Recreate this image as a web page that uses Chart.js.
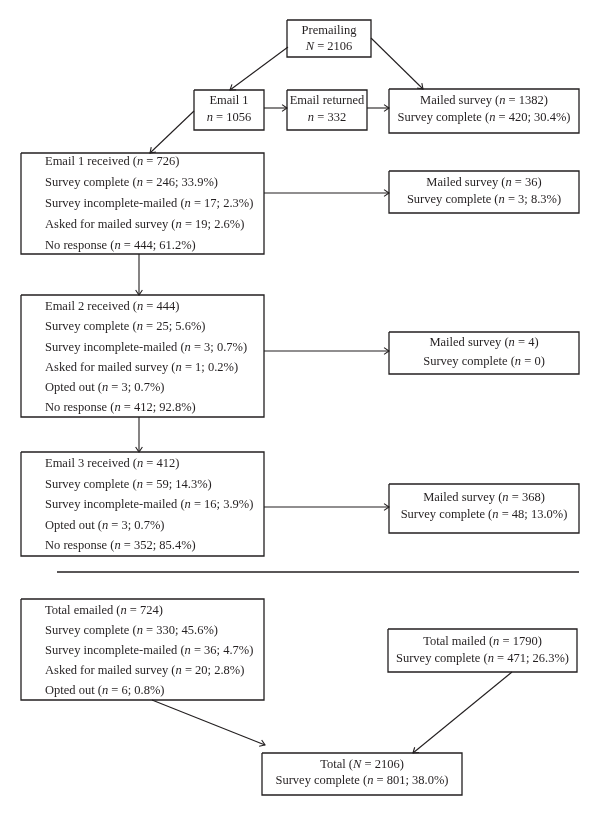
<!DOCTYPE html>
<html>
<head>
<meta charset="utf-8">
<script src="https://cdn.jsdelivr.net/npm/chart.js@4"></script>
<style>
  html, body { margin: 0; padding: 0; background: #fff; }
  #wrap { width: 600px; height: 816px; }
</style>
</head>
<body>
<div id="wrap"><canvas id="flow" width="600" height="816"></canvas></div>
<script>
// text of each box (*x* = italic)
const premailing = ['Premailing', '*N* = 2106'];
const email1 = ['Email 1', '*n* = 1056'];
const emailReturned = ['Email returned', '*n* = 332'];
const mailed0 = ['Mailed survey (*n* = 1382)', 'Survey complete (*n* = 420; 30.4%)'];
const received1 = ['Email 1 received (*n* = 726)', 'Survey complete (*n* = 246; 33.9%)',
  'Survey incomplete-mailed (*n* = 17; 2.3%)', 'Asked for mailed survey (*n* = 19; 2.6%)',
  'No response (*n* = 444; 61.2%)'];
const mailed1 = ['Mailed survey (*n* = 36)', 'Survey complete (*n* = 3; 8.3%)'];
const received2 = ['Email 2 received (*n* = 444)', 'Survey complete (*n* = 25; 5.6%)',
  'Survey incomplete-mailed (*n* = 3; 0.7%)', 'Asked for mailed survey (*n* = 1; 0.2%)',
  'Opted out (*n* = 3; 0.7%)', 'No response (*n* = 412; 92.8%)'];
const mailed2 = ['Mailed survey (*n* = 4)', 'Survey complete (*n* = 0)'];
const received3 = ['Email 3 received (*n* = 412)', 'Survey complete (*n* = 59; 14.3%)',
  'Survey incomplete-mailed (*n* = 16; 3.9%)', 'Opted out (*n* = 3; 0.7%)',
  'No response (*n* = 352; 85.4%)'];
const mailed3 = ['Mailed survey (*n* = 368)', 'Survey complete (*n* = 48; 13.0%)'];
const totalEmailed = ['Total emailed (*n* = 724)', 'Survey complete (*n* = 330; 45.6%)',
  'Survey incomplete-mailed (*n* = 36; 4.7%)', 'Asked for mailed survey (*n* = 20; 2.8%)',
  'Opted out (*n* = 6; 0.8%)'];
const totalMailed = ['Total mailed (*n* = 1790)', 'Survey complete (*n* = 471; 26.3%)'];
const total = ['Total (*N* = 2106)', 'Survey complete (*n* = 801; 38.0%)'];

// layout in page units: [x0, y0, x1, y1], align, first line y, line step
const boxes = [
  { t: premailing,    r: [287, 20, 371, 57],   al: 'c', y: 31,  s: 16 },
  { t: email1,        r: [194, 90, 264, 130],  al: 'c', y: 101, s: 16.5 },
  { t: emailReturned, r: [287, 90, 367, 130],  al: 'c', y: 101, s: 16.5 },
  { t: mailed0,       r: [389, 89, 579, 133],  al: 'c', y: 101, s: 16.5 },
  { t: received1,     r: [21, 153, 264, 254],  al: 'l', y: 162, s: 21 },
  { t: mailed1,       r: [389, 171, 579, 213], al: 'c', y: 183, s: 17 },
  { t: received2,     r: [21, 295, 264, 417],  al: 'l', y: 307, s: 20.2 },
  { t: mailed2,       r: [389, 332, 579, 374], al: 'c', y: 343, s: 19 },
  { t: received3,     r: [21, 452, 264, 556],  al: 'l', y: 464, s: 20.5 },
  { t: mailed3,       r: [389, 484, 579, 533], al: 'c', y: 498, s: 17 },
  { t: totalEmailed,  r: [21, 599, 264, 700],  al: 'l', y: 611, s: 20 },
  { t: totalMailed,   r: [388, 629, 577, 672], al: 'c', y: 642, s: 17 },
  { t: total,         r: [262, 753, 462, 795], al: 'c', y: 765, s: 16 }
];

// connectors: [x0, y0, x1, y1, arrowhead]
const links = [
  [288, 47, 230, 90, true],
  [371, 38, 423, 89, true],
  [264, 108, 287, 108, true],
  [367, 108, 389, 108, true],
  [194, 111, 150, 153, true],
  [264, 193, 389, 193, true],
  [139, 254, 139, 295, true],
  [264, 351, 389, 351, true],
  [139, 417, 139, 452, true],
  [264, 507, 389, 507, true],
  [57, 572, 579, 572, false],
  [152, 700, 265, 745, true],
  [512, 672, 413, 753, true]
];

const ink = '#231f20';
const datasets = [];
boxes.forEach(b => {
  const [x0, y0, x1, y1] = b.r;
  datasets.push({
    data: [{x: x0, y: y0}, {x: x1, y: y0}, {x: x1, y: y1}, {x: x0, y: y1}, {x: x0, y: y0}],
    showLine: true, borderColor: ink, borderWidth: 1.3, pointRadius: 0, fill: false
  });
});
links.forEach(l => {
  datasets.push({
    data: [{x: l[0], y: l[1]}, {x: l[2], y: l[3]}],
    showLine: true, borderColor: ink, borderWidth: l[4] ? 1.1 : 1.6, pointRadius: 0, fill: false
  });
});

const FONT = '12.5px "Liberation Serif", "DejaVu Serif", serif';
const IFONT = 'italic 12.5px "Liberation Serif", "DejaVu Serif", serif';

function parts(str) {
  return str.split('*').map((p, i) => ({ s: p, it: i % 2 === 1 })).filter(p => p.s);
}
function measure(ctx, str) {
  let w = 0;
  parts(str).forEach(p => { ctx.font = p.it ? IFONT : FONT; w += ctx.measureText(p.s).width; });
  return w;
}

const flowDraw = {
  id: 'flowDraw',
  afterDatasetsDraw(chart) {
    const ctx = chart.ctx, xs = chart.scales.x, ys = chart.scales.y;
    ctx.save();
    ctx.fillStyle = ink;
    ctx.textBaseline = 'middle';
    boxes.forEach(b => {
      const px0 = xs.getPixelForValue(b.r[0]), px1 = xs.getPixelForValue(b.r[2]);
      b.t.forEach((line, i) => {
        const py = ys.getPixelForValue(b.y + i * b.s);
        let x = b.al === 'l' ? px0 + 24 : (px0 + px1) / 2 - measure(ctx, line) / 2;
        parts(line).forEach(p => {
          ctx.font = p.it ? IFONT : FONT;
          ctx.fillText(p.s, x, py);
          x += ctx.measureText(p.s).width;
        });
      });
    });
    // open arrowheads
    ctx.strokeStyle = ink;
    ctx.lineWidth = 1.1;
    links.filter(l => l[4]).forEach(l => {
      const ax = xs.getPixelForValue(l[0]), ay = ys.getPixelForValue(l[1]);
      const bx = xs.getPixelForValue(l[2]), by = ys.getPixelForValue(l[3]);
      const a = Math.atan2(by - ay, bx - ax), len = 6, sp = 0.6;
      ctx.beginPath();
      ctx.moveTo(bx - len * Math.cos(a - sp), by - len * Math.sin(a - sp));
      ctx.lineTo(bx, by);
      ctx.lineTo(bx - len * Math.cos(a + sp), by - len * Math.sin(a + sp));
      ctx.stroke();
    });
    ctx.restore();
  }
};

new Chart(document.getElementById('flow'), {
  type: 'scatter',
  data: { datasets },
  options: {
    responsive: false,
    animation: false,
    layout: { padding: 0 },
    scales: {
      x: { type: 'linear', min: 0, max: 600, display: false },
      y: { type: 'linear', min: 0, max: 816, reverse: true, display: false }
    },
    plugins: { legend: { display: false }, tooltip: { enabled: false } },
    elements: { line: { tension: 0 } }
  },
  plugins: [flowDraw]
});
</script>
</body>
</html>
